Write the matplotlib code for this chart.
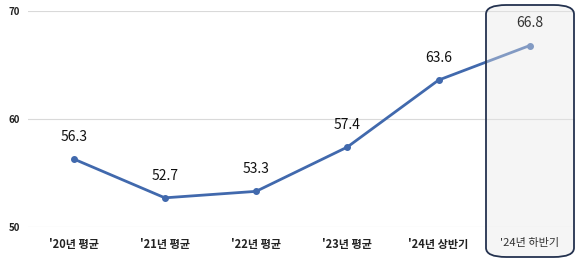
import matplotlib.pyplot as plt
from matplotlib.patches import FancyBboxPatch

plt.rcParams['font.family'] = ['Noto Sans CJK KR', 'DejaVu Sans']

labels = ["'20년 평균", "'21년 평균", "'22년 평균", "'23년 평균", "'24년 상반기", "'24년 하반기"]
values = [56.3, 52.7, 53.3, 57.4, 63.6, 66.8]
yticks = [50, 60, 70]


def main():
    fig = plt.figure(figsize=(5.8, 2.61), dpi=100)
    ax = fig.add_axes([0.0483, 0.1303, 0.9437, 0.8276])

    x = list(range(len(values)))
    line_color = "#4169ad"

    ax.plot(x, values, color=line_color, lw=2, marker="o", ms=4, zorder=3)

    for i, v in enumerate(values):
        last = i == len(values) - 1
        ax.annotate(f"{v:.1f}", (i, v), xytext=(0, 11), textcoords="offset points",
                    ha="center", va="bottom", fontsize=10, color="#333333" if last else "#111111",
                    zorder=6)

    ax.set_xlim(-0.5, len(values) - 0.5)
    ax.set_ylim(50, 70)
    ax.set_yticks(yticks)
    ax.set_yticklabels([str(t) for t in yticks], fontsize=7, fontweight="bold", color="#222222")
    ax.set_xticks(x)
    ax.set_xticklabels(labels[:-1] + [""], fontsize=8, fontweight="bold", color="#222222")
    ax.tick_params(length=0, pad=8)
    ax.tick_params(axis="y", pad=6)
    ax.grid(axis="y", color="#d9d9d9", lw=0.8)
    ax.set_axisbelow(True)
    for s in ax.spines.values():
        s.set_visible(False)

    # last category label drawn above the highlight box
    ax.annotate(labels[-1], (x[-1], 0), xycoords=ax.get_xaxis_transform(),
                xytext=(0, -8), textcoords="offset points", ha="center", va="top",
                fontsize=8, color="#333333", zorder=6, annotation_clip=False)

    # highlight box for the last period
    box = FancyBboxPatch((486 / 580, 4 / 261), 88 / 580, 252 / 261,
                         boxstyle="round,pad=0,rounding_size=0.035",
                         transform=fig.transFigure, facecolor=(0.9, 0.9, 0.9, 0.4),
                         edgecolor="#24324f", lw=1.3, zorder=4, clip_on=False)
    ax.add_patch(box)

    fig.savefig("out.png", dpi=100)


if __name__ == "__main__":
    main()
